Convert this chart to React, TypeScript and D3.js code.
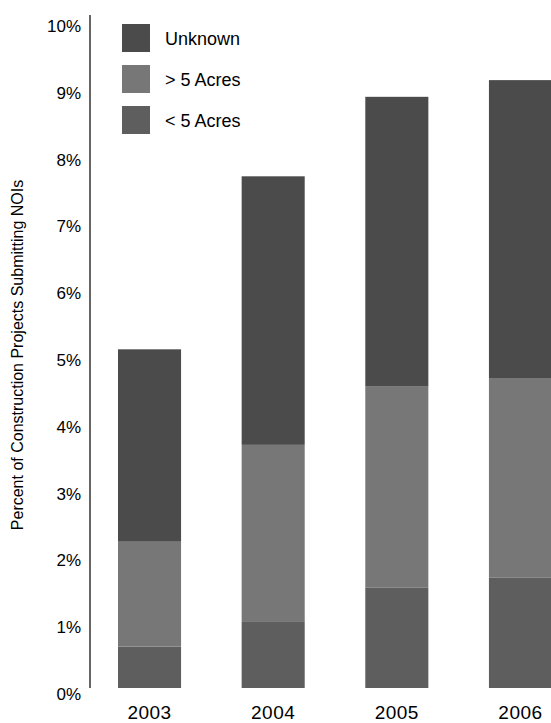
import * as d3 from "d3";

const years = ["2003", "2004", "2005", "2006"];
const series = ["< 5 Acres", "> 5 Acres", "Unknown"];
const lessThan5 = [0.62, 1.0, 1.5, 1.65];
const moreThan5 = [1.57, 2.64, 3.02, 2.99];
const unknown = [2.88, 4.02, 4.33, 4.46];
const yTicks = [0, 1, 2, 3, 4, 5, 6, 7, 8, 9, 10];
const colors: Record<string, string> = {
  "< 5 Acres": "#5e5e5e",
  "> 5 Acres": "#777777",
  Unknown: "#4b4b4b",
};

const W = 551;
const H = 723;
const font = "'Liberation Sans', Arial, sans-serif";

export default function App() {
  const y = d3.scaleLinear().domain([0, 10]).range([688, 20]);
  const x = d3.scaleBand().domain(years).range([118, 552]).paddingInner(0.49).paddingOuter(0);
  const rows = years.map((yr, i) => ({
    year: yr,
    "< 5 Acres": lessThan5[i],
    "> 5 Acres": moreThan5[i],
    Unknown: unknown[i],
  }));
  const stacked = d3.stack<any>().keys(series)(rows);
  const legendOrder = ["Unknown", "> 5 Acres", "< 5 Acres"];

  return (
    <svg width={W} height={H} style={{ position: "absolute", left: 0, top: 0, background: "#fff" }} fontFamily={font}>
      {stacked.map((s) => (
        <g key={s.key} fill={colors[s.key]}>
          {s.map((d, i) => (
            <rect key={i} x={x(years[i])} width={x.bandwidth()} y={y(d[1])} height={y(d[0]) - y(d[1])} />
          ))}
        </g>
      ))}
      <line x1={90} x2={90} y1={15} y2={688} stroke="#000" strokeWidth={1.2} />
      {yTicks.map((t) => (
        <text key={t} x={81} y={y(t) + 12} textAnchor="end" fontSize={17}>
          {t}%
        </text>
      ))}
      {years.map((yr) => (
        <text key={yr} x={x(yr)! + x.bandwidth() / 2} y={719} textAnchor="middle" fontSize={19} letterSpacing={0.5}>
          {yr}
        </text>
      ))}
      <text transform="translate(23,355) rotate(-90)" textAnchor="middle" fontSize={16}>
        Percent of Construction Projects Submitting NOIs
      </text>
      {legendOrder.map((k, i) => (
        <g key={k} transform={`translate(122,${24 + i * 41})`}>
          <rect width={28} height={28} fill={colors[k]} />
          <text x={43} y={21} fontSize={18}>
            {k}
          </text>
        </g>
      ))}
    </svg>
  );
}
